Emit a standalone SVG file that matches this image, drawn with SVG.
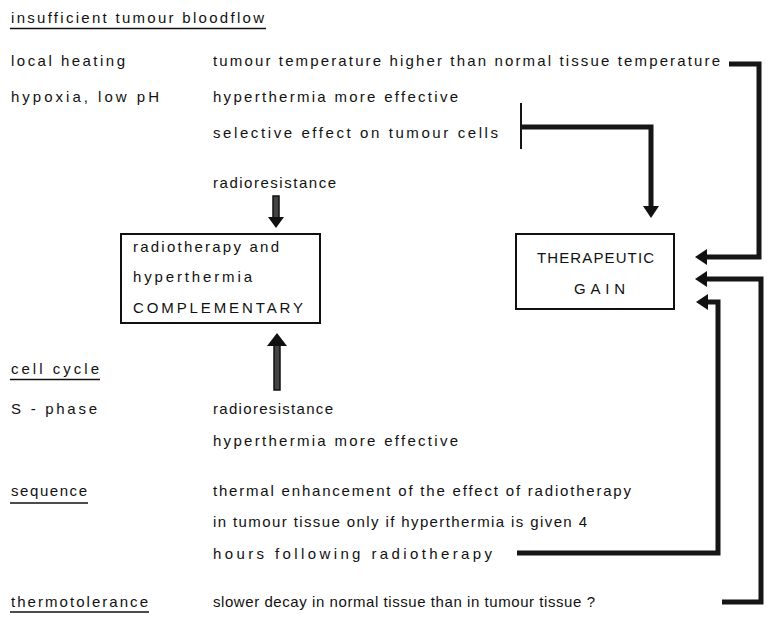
<svg xmlns="http://www.w3.org/2000/svg" width="768" height="618" viewBox="0 0 768 618">
<defs>
<style>
text{font-family:"Liberation Sans",Arial,sans-serif;font-size:15px;fill:#111;}
.box{fill:#fff;stroke:#111;stroke-width:2;}
.ul{stroke:#111;stroke-width:1.6;fill:none;}
.conn{fill:none;stroke:#151515;stroke-width:5;stroke-linejoin:miter;}
.thin{fill:none;stroke:#151515;stroke-width:2;}
.shaft{fill:#444;stroke:#111;stroke-width:1.5;}
.head{fill:#111;}
</style>
<marker id="ah" markerUnits="userSpaceOnUse" markerWidth="14" markerHeight="18" viewBox="0 -9 14 18" refX="1" refY="0" orient="auto">
<path d="M0,-8 L12,0 L0,8 z" fill="#111"/>
</marker>
</defs>
<rect width="768" height="618" fill="#fff"/>

<g id="labels">
<text x="11" y="23" textLength="253" lengthAdjust="spacing">insufficient tumour bloodflow</text>
<line class="ul" x1="10" y1="28.5" x2="266" y2="28.5"/>
<text x="11" y="66" textLength="114" lengthAdjust="spacing">local heating</text>
<text x="213" y="66" textLength="507" lengthAdjust="spacing">tumour temperature higher than normal tissue temperature</text>
<text x="11" y="102" textLength="148" lengthAdjust="spacing">hypoxia, low pH</text>
<text x="213" y="102" textLength="245" lengthAdjust="spacing">hyperthermia more effective</text>
<text x="213" y="138" textLength="285" lengthAdjust="spacing">selective effect on tumour cells</text>
<text x="213" y="188" textLength="123" lengthAdjust="spacing">radioresistance</text>
<text x="11" y="374" textLength="88" lengthAdjust="spacing">cell cycle</text>
<line class="ul" x1="10" y1="379.5" x2="100" y2="379.5"/>
<text x="11" y="414" textLength="86" lengthAdjust="spacing">S - phase</text>
<text x="213" y="414" textLength="120" lengthAdjust="spacing">radioresistance</text>
<text x="213" y="446" textLength="245" lengthAdjust="spacing">hyperthermia more effective</text>
<text x="11" y="496" textLength="76" lengthAdjust="spacing">sequence</text>
<line class="ul" x1="10" y1="503" x2="88" y2="503"/>
<text x="213" y="496" textLength="418" lengthAdjust="spacing">thermal enhancement of the effect of radiotherapy</text>
<text x="213" y="527" textLength="374" lengthAdjust="spacing">in tumour tissue only if hyperthermia is given 4</text>
<text x="213" y="559" textLength="279" lengthAdjust="spacing">hours following radiotherapy</text>
<text x="11" y="607" textLength="137" lengthAdjust="spacing">thermotolerance</text>
<line class="ul" x1="10" y1="612" x2="149" y2="612"/>
<text x="213" y="607" textLength="382" lengthAdjust="spacing">slower decay in normal tissue than in tumour tissue ?</text>
</g>

<g id="complementary">
<rect class="box" x="121" y="234" width="199" height="89"/>
<text x="133" y="252" textLength="146" lengthAdjust="spacing">radiotherapy and</text>
<text x="133" y="282" textLength="119" lengthAdjust="spacing">hyperthermia</text>
<text x="133" y="313" textLength="170" lengthAdjust="spacing">COMPLEMENTARY</text>
</g>

<g id="therapeutic-gain">
<rect class="box" x="516" y="234" width="158" height="75"/>
<text x="537" y="263" textLength="117" lengthAdjust="spacing">THERAPEUTIC</text>
<text x="574" y="294" textLength="51" lengthAdjust="spacing">GAIN</text>
</g>

<g id="connectors">
<rect class="shaft" x="273" y="196" width="6" height="22"/>
<path class="head" d="M268,217 L284,217 L276,228 z"/>
<rect class="shaft" x="274" y="344" width="6" height="46"/>
<path class="head" d="M267,346 L287,346 L277,333 z"/>
<path class="conn" d="M729,64 H759 V257 H706" marker-end="url(#ah)"/>
<path class="thin" d="M521,103 V149"/>
<path class="conn" d="M521,127 H651 V207" marker-end="url(#ah)"/>
<path class="conn" d="M722,602 H761 V279 H706" marker-end="url(#ah)"/>
<path class="conn" d="M517,553 H718 V302 H707" marker-end="url(#ah)"/>
</g>
</svg>
